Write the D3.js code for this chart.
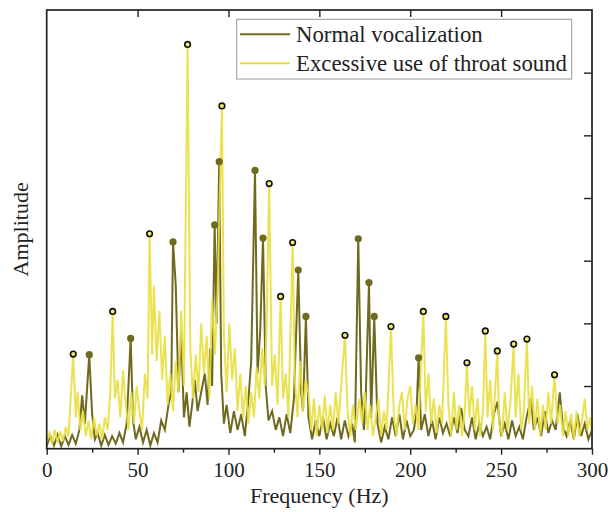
<!DOCTYPE html>
<html>
<head>
<meta charset="utf-8">
<script src="https://cdn.jsdelivr.net/npm/d3@7"></script>
<style>
  body { margin: 0; background: #fff; }
  text { font-family: 'Liberation Serif', 'Times New Roman', serif; fill: #222; }
</style>
</head>
<body>
<script>
const w = 608
const h = 512
const margin = { top: 10, right: 16, bottom: 63.3, left: 46.7 }

const seriesNames = ['Normal vocalization', 'Excessive use of throat sound']
const xTicks = [0, 50, 100, 150, 200, 250, 300]
const xMinorTicks = [25, 75, 125, 175, 225, 275]
const yTicks = [1, 2, 3, 4, 5, 6]

// peaks (marked with circles) [Hz, amplitude]
const normalPeaks = [
  [23.4, 1.50], [46.2, 1.76], [69.5, 3.30], [92.4, 3.57], [94.9, 4.58],
  [114.6, 4.44], [119, 3.36], [138.4, 2.85], [142.6, 2.11], [171.4, 3.35],
  [177.3, 2.65], [180.2, 2.11], [204.6, 1.45]
]
const excessPeaks = [
  [14.6, 1.51], [36.3, 2.19], [56.6, 3.43], [77.5, 6.45], [96.4, 5.47],
  [122.4, 4.23], [128.7, 2.43], [135.3, 3.29], [164.1, 1.81], [189.4, 1.95],
  [207.2, 2.19], [219.6, 2.11], [231.2, 1.37], [241.3, 1.88], [247.9, 1.56],
  [256.9, 1.67], [264.2, 1.75], [279.4, 1.18]
]

// spectrum between the peaks [Hz, amplitude]
const normalRest = [
  [0, 0.05], [2, 0.2], [4, 0.05], [6, 0.22], [8, 0.04], [10, 0.2], [12, 0.06], [14, 0.22],
  [16, 0.08], [18, 0.3], [19.5, 0.85], [21, 0.4], [25, 0.55], [26.5, 0.15], [28, 0.25],
  [30, 0.05], [32, 0.22], [34, 0.06], [36, 0.2], [38, 0.08], [40, 0.25], [42, 0.1], [44, 0.4],
  [47.5, 0.45], [49, 0.15], [51, 0.35], [53, 0.1], [55, 0.3], [57, 0.05], [59, 0.25],
  [61, 0.1], [63, 0.45], [65, 0.3], [67, 0.7], [68.5, 0.9], [71, 2.6], [72.5, 0.9],
  [74, 1.85], [75.5, 0.5], [77, 0.9], [78.5, 0.35], [80, 0.7], [81.5, 1.1], [83, 0.6],
  [85, 0.9], [87, 1.2], [88.5, 0.7], [90, 1.6], [91, 1.0], [93.5, 2.0], [96, 1.2],
  [97.5, 0.4], [99, 0.7], [101, 0.25], [103, 0.6], [105, 0.3], [107, 0.55], [109, 0.2],
  [111, 0.8], [112.5, 1.4], [116, 1.2], [117.5, 1.9], [120.5, 1.0], [122, 0.45], [124, 0.6],
  [126, 0.3], [128, 0.5], [130, 0.2], [132, 0.55], [134, 0.25], [136, 0.8], [140, 0.9],
  [141, 0.6], [144, 0.5], [146, 0.15], [148, 0.45], [150, 0.2], [152, 0.5], [154, 0.15],
  [156, 0.4], [158, 0.2], [160, 0.5], [162, 0.15], [164, 0.45], [166, 0.2], [168, 0.4],
  [169.5, 0.1], [173, 0.9], [174.5, 0.3], [175.5, 0.8], [178.5, 0.5], [182, 0.4],
  [184, 0.1], [186, 0.35], [188, 0.15], [190, 0.5], [192, 0.2], [194, 0.55], [196, 0.15],
  [198, 0.45], [200, 0.2], [202, 0.3], [203.5, 0.6], [206, 0.3], [208, 0.55], [210, 0.2],
  [212, 0.45], [214, 0.15], [216, 0.5], [218, 0.25], [220, 0.4], [222, 0.2], [224, 0.5],
  [226, 0.25], [228, 0.65], [230, 0.3], [232, 0.2], [234, 0.5], [236, 0.15], [238, 0.4],
  [240, 0.2], [242, 0.35], [244, 0.15], [246, 0.55], [248, 0.75], [250, 0.2], [252, 0.4],
  [254, 0.15], [256, 0.45], [258, 0.2], [260, 0.35], [262, 0.15], [264, 0.5], [266.4, 0.8],
  [268, 0.3], [270, 0.5], [272, 0.2], [274, 0.6], [276, 0.25], [278, 0.45], [280, 0.3],
  [282.3, 0.9], [284, 0.35], [286, 0.2], [288, 0.45], [290, 0.15], [292, 0.55], [294, 0.2],
  [296, 0.4], [298, 0.15], [300, 0.3]
]
const excessRest = [
  [0, 0.1], [1.5, 0.25], [3, 0.08], [4.5, 0.3], [6, 0.1], [7.5, 0.28], [9, 0.12], [10.5, 0.35],
  [12, 0.2], [13, 0.7], [16, 0.5], [17, 0.9], [18.5, 0.3], [20, 0.6], [21.5, 0.2], [23, 0.45],
  [24.5, 0.15], [26, 0.5], [27.5, 0.2], [29, 0.4], [30.5, 0.15], [32, 0.5], [33.5, 0.3],
  [35, 0.9], [37.5, 0.8], [39, 1.1], [40.5, 0.5], [42, 1.25], [43.5, 0.7], [45, 0.3],
  [46.5, 0.9], [48, 0.4], [49.5, 1.0], [51, 0.6], [52.5, 0.3], [54, 1.2], [55.5, 0.8],
  [58, 1.5], [59, 2.6], [60.5, 1.4], [62, 2.2], [63.5, 1.1], [65, 1.8], [66.5, 0.7],
  [68, 1.2], [69.5, 0.6], [71, 1.4], [72.5, 0.9], [74, 2.2], [75.5, 1.0], [79, 1.6],
  [80.5, 0.8], [82, 1.5], [83.5, 0.9], [85, 2.0], [86.5, 1.2], [88, 1.8], [89.5, 0.8],
  [91, 2.4], [92.5, 1.5], [94, 2.5], [97.5, 1.8], [99, 0.9], [100.5, 2.0], [102, 1.1],
  [103.5, 1.6], [105, 0.6], [106.5, 1.2], [108, 0.5], [109.5, 1.0], [111, 0.4], [112.5, 0.9],
  [114, 0.5], [115.5, 1.3], [117, 0.8], [118.5, 1.6], [120, 1.0], [121, 2.0], [124, 1.0],
  [125.5, 1.5], [127, 0.7], [130, 0.8], [131.5, 1.2], [133, 0.5], [136.5, 1.1], [138, 0.5],
  [139.5, 1.4], [141, 0.6], [142.5, 1.1], [144, 0.9], [145.5, 0.3], [147, 0.8], [148.5, 0.2],
  [150, 0.7], [151.5, 0.3], [153, 0.85], [154.5, 0.25], [156, 0.7], [157.5, 0.3], [159, 0.9],
  [160.5, 0.4], [162, 1.0], [165.5, 0.6], [167, 0.2], [168.5, 0.7], [170, 0.3], [172, 0.8],
  [173.5, 0.4], [175, 0.9], [176.5, 0.3], [178, 0.7], [179.5, 0.2], [181, 0.5], [182.5, 0.8],
  [184, 0.2], [185.5, 0.6], [187, 0.3], [191, 0.5], [192.5, 0.2], [194, 0.7], [195.5, 0.9],
  [197, 0.3], [198.5, 0.8], [200, 1.0], [201.5, 0.4], [203, 0.7], [204.5, 0.3], [208.5, 0.6],
  [210, 1.2], [211.5, 0.4], [213, 0.8], [214.5, 0.25], [216, 0.7], [217.5, 0.4], [221, 0.7],
  [222.5, 0.2], [224, 0.9], [225.5, 0.3], [227, 0.7], [228.5, 0.2], [230, 0.6], [232.5, 0.5],
  [234, 1.0], [235.5, 0.3], [237, 0.8], [238.5, 0.2], [240, 0.6], [242.5, 0.5], [244, 1.1],
  [245.5, 0.3], [249, 0.4], [250.5, 0.2], [252, 0.9], [253.5, 0.3], [255, 0.7], [258, 0.5],
  [259.5, 1.2], [261, 0.3], [262.5, 0.6], [265.5, 0.4], [267, 1.0], [268.5, 0.3], [270, 0.8],
  [271.5, 0.2], [273, 0.7], [274.5, 0.3], [276, 0.9], [277.5, 0.4], [281, 0.4], [282.5, 0.7],
  [284, 0.2], [285.5, 0.6], [287, 0.2], [288.5, 0.55], [290, 0.15], [291.5, 0.6], [293, 0.2],
  [294.5, 0.45], [296, 0.8], [297.5, 0.3], [299, 0.5], [300, 0.25]
]

const colors = ['#6f6a1f', '#e8df3f']

const svg = d3.select('body').append('svg')
  .attr('width', w)
  .attr('height', h)

const xScale = d3.scaleLinear()
  .domain([0, 300])
  .range([margin.left, w - margin.right])

const yScale = d3.scaleLinear()
  .domain([0, 7])
  .range([h - margin.bottom, margin.top])

const byHz = (a, b) => a[0] - b[0]
const normal = normalRest.concat(normalPeaks).sort(byHz)
const excess = excessRest.concat(excessPeaks).sort(byHz)

const lineFn = d3.line()
  .x(d => xScale(d[0]))
  .y(d => yScale(d[1]))

svg.append('path')
  .attr('d', lineFn(normal))
  .attr('stroke', colors[0])
  .attr('stroke-width', 2)
  .attr('fill', 'none')

svg.append('path')
  .attr('d', lineFn(excess))
  .attr('stroke', colors[1])
  .attr('stroke-width', 2)
  .attr('stroke-opacity', 0.9)
  .attr('fill', 'none')

svg.selectAll('.np')
  .data(normalPeaks)
  .enter().append('circle')
  .attr('cx', d => xScale(d[0]))
  .attr('cy', d => yScale(d[1]))
  .attr('r', 3.6)
  .attr('fill', colors[0])

svg.selectAll('.ep')
  .data(excessPeaks)
  .enter().append('circle')
  .attr('cx', d => xScale(d[0]))
  .attr('cy', d => yScale(d[1]))
  .attr('r', 2.8)
  .attr('fill', '#f2ea6a')
  .attr('stroke', '#111')
  .attr('stroke-width', 1.6)

// axes
const y0 = h - margin.bottom
svg.append('g')
  .attr('transform', `translate(0,${y0})`)
  .call(d3.axisBottom(xScale).tickValues(xTicks).tickSize(6).tickFormat(d3.format('d')))
  .call(g => g.selectAll('text').attr('font-size', 21).attr('dy', '0.9em'))
  .call(g => g.select('.domain').remove())

svg.append('g')
  .attr('transform', `translate(0,${y0})`)
  .call(d3.axisBottom(xScale).tickValues(xMinorTicks).tickSize(4).tickFormat(''))
  .call(g => g.select('.domain').remove())

svg.append('g')
  .attr('transform', `translate(0,${margin.top})`)
  .call(d3.axisBottom(xScale).tickValues(xTicks.slice(1, -1)).tickSize(7).tickFormat(''))
  .call(g => g.select('.domain').remove())

svg.append('g')
  .attr('transform', `translate(${w - margin.right},0)`)
  .call(d3.axisLeft(yScale).tickValues(yTicks).tickSize(8).tickFormat(''))
  .call(g => g.select('.domain').remove())

svg.selectAll('.tick line').attr('stroke', '#222').attr('stroke-width', 1.4)

svg.append('rect')
  .attr('x', margin.left)
  .attr('y', margin.top)
  .attr('width', w - margin.left - margin.right)
  .attr('height', h - margin.top - margin.bottom)
  .attr('fill', 'none')
  .attr('stroke', '#222')
  .attr('stroke-width', 1.7)

svg.append('text')
  .attr('x', (margin.left + w - margin.right) / 2)
  .attr('y', 503)
  .attr('text-anchor', 'middle')
  .attr('font-size', 22)
  .text('Frequency (Hz)')

svg.append('text')
  .attr('transform', `translate(28,${(margin.top + y0) / 2}) rotate(-90)`)
  .attr('text-anchor', 'middle')
  .attr('font-size', 22)
  .text('Amplitude')

// legend
const legend = svg.append('g')
legend.append('rect')
  .attr('x', 236.7)
  .attr('y', 19.3)
  .attr('width', 335)
  .attr('height', 59.7)
  .attr('fill', '#fff')
  .attr('stroke', '#999')
  .attr('stroke-width', 1)

const item = legend.selectAll('.item')
  .data(seriesNames)
  .enter().append('g')
  .attr('transform', (d, i) => `translate(240,${34.3 + i * 29})`)

item.append('line')
  .attr('x1', 0)
  .attr('x2', 50)
  .attr('stroke', (d, i) => colors[i])
  .attr('stroke-width', 2)

item.append('text')
  .attr('x', 56)
  .attr('dy', '0.33em')
  .attr('font-size', 22.8)
  .text(d => d)
</script>
</body>
</html>
